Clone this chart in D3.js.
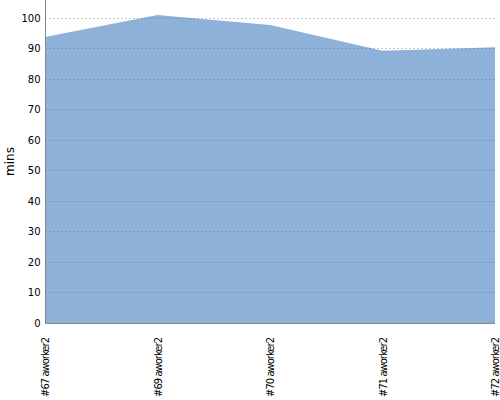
<!DOCTYPE html>
<html><head><meta charset="utf-8">
<script src="https://cdn.jsdelivr.net/npm/d3@7"></script>
<style>body{margin:0;background:#fff}</style>
</head><body><svg id="c" width="500" height="400"></svg>
<script>
const categories = ["#67 aworker2","#69 aworker2","#70 aworker2","#71 aworker2","#72 aworker2"];
const values = [93.8, 101.0, 97.7, 89.3, 90.4];
const yTicks = [0,10,20,30,40,50,60,70,80,90,100];

const svg = d3.select("#c");
const m = {l:45, r:5, t:0, b:77};
const W = 500, H = 400;
const x = d3.scalePoint().domain(categories).range([m.l, W - m.r]);
const y = d3.scaleLinear().domain([0, 105.9]).range([H - m.b, m.t]);

// area
const area = d3.area().x((d,i)=>x(categories[i])).y0(y(0)).y1(d=>y(d));
svg.append("path").datum(values).attr("d", area).attr("fill", "#8eb1da");

// grid (on top)
svg.append("g").selectAll("line").data(yTicks.filter(d=>d>0)).join("line")
  .attr("x1", m.l).attr("x2", W - m.r)
  .attr("y1", d=>Math.round(y(d))+0.5).attr("y2", d=>Math.round(y(d))+0.5)
  .attr("stroke", "#666").attr("stroke-opacity", 0.35).attr("stroke-dasharray", "2,2").attr("stroke-width",1);

// y axis
const ya = svg.append("g").attr("transform", `translate(${m.l+0.5},0)`)
  .call(d3.axisLeft(y).tickValues(yTicks).tickSize(0).tickPadding(5));
ya.select(".domain").attr("stroke", "#888").attr("d", `M0,0V${H - m.b}`);
ya.selectAll("text").attr("font-family","DejaVu Sans").attr("font-size", 10).attr("fill","#000");

// x axis line
svg.append("line").attr("x1", m.l).attr("x2", W - m.r)
  .attr("y1", y(0)+0.5).attr("y2", y(0)+0.5).attr("stroke","#888");

// x labels
svg.append("g").selectAll("text").data(categories).join("text")
  .attr("transform", d=>`translate(${x(d)+4},${H - m.b + 15}) rotate(-90)`)
  .attr("text-anchor","end")
  .attr("font-family","DejaVu Sans").attr("font-size", 10)
  .attr("letter-spacing", -1)
  .text(d=>d);

// y label
svg.append("text").attr("transform", `translate(14,${(H - m.b)/2}) rotate(-90)`)
  .attr("text-anchor","middle").attr("font-family","DejaVu Sans").attr("font-size", 12)
  .text("mins");
</script></body></html>
